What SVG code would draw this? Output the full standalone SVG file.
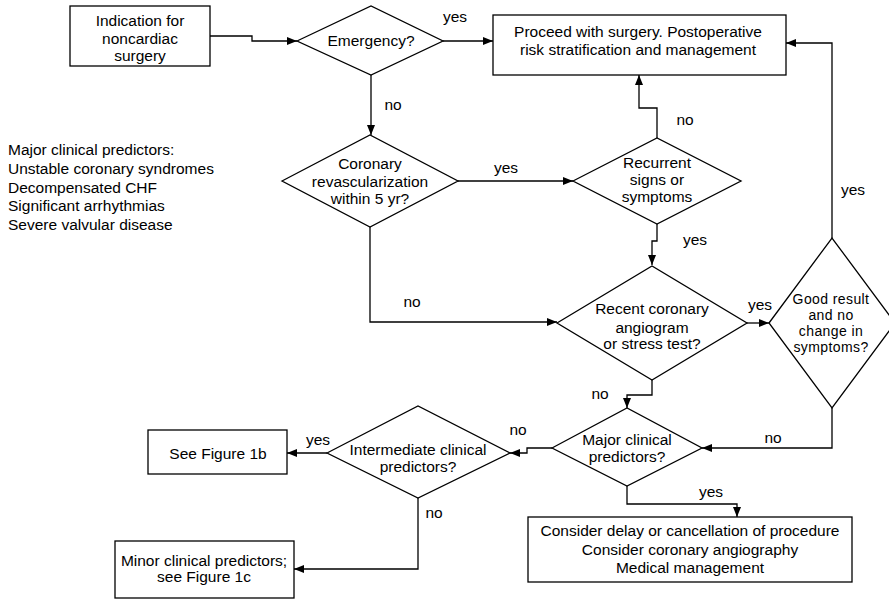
<svg xmlns="http://www.w3.org/2000/svg" width="889" height="600" viewBox="0 0 889 600">
  <style>
    .box { fill: #ffffff; stroke: #000000; stroke-width: 1.3; }
    .dia { fill: #ffffff; stroke: #000000; stroke-width: 1.3; }
    .wire { fill: none; stroke: #000000; stroke-width: 1.3; marker-end: url(#head); }
    text { font-family: "Liberation Sans", Arial, Helvetica, sans-serif; font-size: 15.5px; fill: #000000; }
    .c { text-anchor: middle; }
    .tight { font-size: 14px; letter-spacing: 0.4px; }
  </style>
  <defs>
    <marker id="head" markerUnits="userSpaceOnUse" markerWidth="10" markerHeight="8" refX="10" refY="4" orient="auto">
      <path d="M0,0 L10,4 L0,8 z" fill="#000000"/>
    </marker>
  </defs>
  <rect width="889" height="600" fill="#ffffff"/>

  <!-- connectors -->
  <g id="connectors">
    <path class="wire" d="M210,36 H252 V41 H297"/>
    <path class="wire" d="M443,41 H493"/>
    <path class="wire" d="M371,75 V135"/>
    <path class="wire" d="M458,181 H573"/>
    <path class="wire" d="M370,227 V322 H557"/>
    <path class="wire" d="M657,138 V108 H639 V75"/>
    <path class="wire" d="M657,224 V241 H652 V265"/>
    <path class="wire" d="M747,323 H769"/>
    <path class="wire" d="M832,238 V43 H786"/>
    <path class="wire" d="M652,380 V395 H627 V408"/>
    <path class="wire" d="M832,408 V448 H702"/>
    <path class="wire" d="M627,486 V504 H737 V517"/>
    <path class="wire" d="M552,448 H527 V453 H510"/>
    <path class="wire" d="M327,453 H287"/>
    <path class="wire" d="M418,498 V569 H294"/>
  </g>

  <!-- connector labels -->
  <g id="labels">
    <text class="c" x="455" y="22">yes</text>
    <text class="c" x="393" y="110">no</text>
    <text class="c" x="506" y="173">yes</text>
    <text class="c" x="685" y="125">no</text>
    <text class="c" x="853" y="195">yes</text>
    <text class="c" x="695" y="245">yes</text>
    <text class="c" x="412" y="307">no</text>
    <text class="c" x="760" y="310">yes</text>
    <text class="c" x="600" y="399">no</text>
    <text class="c" x="773" y="443">no</text>
    <text class="c" x="518" y="435">no</text>
    <text class="c" x="318" y="445">yes</text>
    <text class="c" x="434" y="518">no</text>
    <text class="c" x="711" y="497">yes</text>
  </g>

  <!-- side note -->
  <g id="note">
    <text x="8" y="155">Major clinical predictors:</text>
    <text x="8" y="174">Unstable coronary syndromes</text>
    <text x="8" y="193">Decompensated CHF</text>
    <text x="8" y="211">Significant arrhythmias</text>
    <text x="8" y="230">Severe valvular disease</text>
  </g>

  <g id="indication">
    <rect class="box" x="70" y="6" width="140" height="60"/>
    <text class="c" x="140" y="26">Indication for</text>
    <text class="c" x="140" y="44">noncardiac</text>
    <text class="c" x="140" y="61">surgery</text>
  </g>

  <g id="emergency">
    <polygon class="dia" points="297,41 371,6 443,41 371,75"/>
    <text class="c" x="371" y="46">Emergency?</text>
  </g>

  <g id="proceed">
    <rect class="box" x="493" y="15" width="293" height="60"/>
    <text class="c" x="638" y="37">Proceed with surgery. Postoperative</text>
    <text class="c" x="638" y="55">risk stratification and management</text>
  </g>

  <g id="revascularization">
    <polygon class="dia" points="282,181 370,135 458,181 370,227"/>
    <text class="c" x="370" y="169">Coronary</text>
    <text class="c" x="370" y="187">revascularization</text>
    <text class="c" x="370" y="204">within 5 yr?</text>
  </g>

  <g id="recurrent">
    <polygon class="dia" points="573,181 657,138 741,181 657,224"/>
    <text class="c" x="657" y="168">Recurrent</text>
    <text class="c" x="657" y="185">signs or</text>
    <text class="c" x="657" y="202">symptoms</text>
  </g>

  <g id="recent-test">
    <polygon class="dia" points="557,323 652,266 747,323 652,380"/>
    <text class="c" x="652" y="314">Recent coronary</text>
    <text class="c" x="652" y="333">angiogram</text>
    <text class="c" x="652" y="349">or stress test?</text>
  </g>

  <g id="good-result">
    <polygon class="dia" points="769,323 832,238 895,323 832,408"/>
    <text class="c tight" x="831" y="304">Good result</text>
    <text class="c tight" x="831" y="320">and no</text>
    <text class="c tight" x="831" y="336">change in</text>
    <text class="c tight" x="831" y="352">symptoms?</text>
  </g>

  <g id="major">
    <polygon class="dia" points="552,448 627,408 702,448 627,486"/>
    <text class="c" x="627" y="445">Major clinical</text>
    <text class="c" x="627" y="462">predictors?</text>
  </g>

  <g id="intermediate">
    <polygon class="dia" points="327,453 418,406 510,453 418,498"/>
    <text class="c" x="418" y="455">Intermediate clinical</text>
    <text class="c" x="418" y="472">predictors?</text>
  </g>

  <g id="figure-1b">
    <rect class="box" x="148" y="430" width="139" height="44"/>
    <text class="c" x="218" y="459">See Figure 1b</text>
  </g>

  <g id="minor">
    <rect class="box" x="115" y="541" width="179" height="57"/>
    <text class="c" x="204" y="566">Minor clinical predictors;</text>
    <text class="c" x="204" y="582">see Figure 1c</text>
  </g>

  <g id="delay">
    <rect class="box" x="528" y="517" width="324" height="65"/>
    <text class="c" x="690" y="536">Consider delay or cancellation of procedure</text>
    <text class="c" x="690" y="555">Consider coronary angiography</text>
    <text class="c" x="690" y="573">Medical management</text>
  </g>
</svg>
